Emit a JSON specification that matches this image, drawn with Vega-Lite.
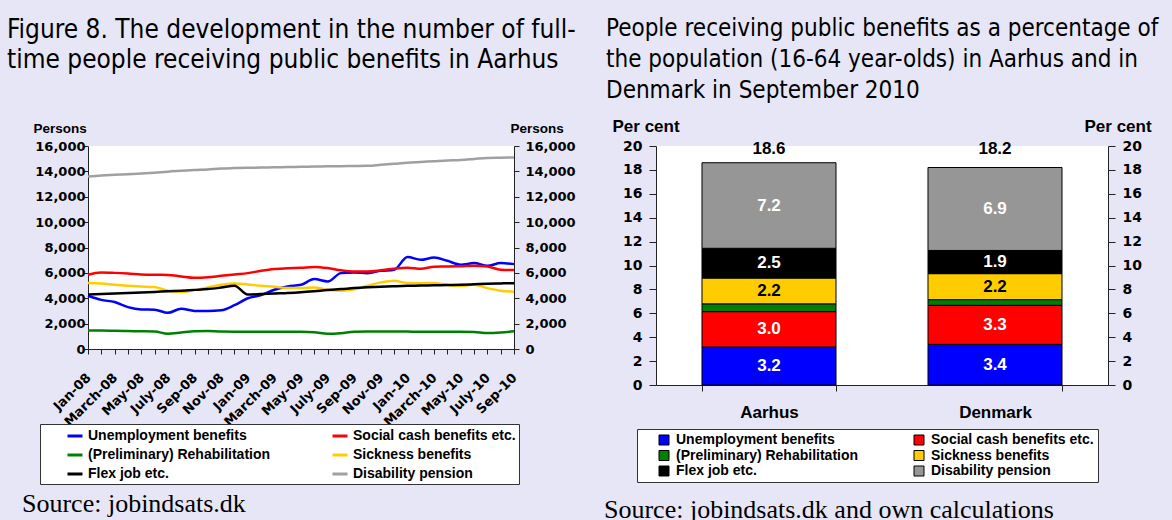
{
  "$schema": "https://vega.github.io/schema/vega-lite/v6.json",
  "background": "#E6E6F7",
  "padding": {"left": 7, "top": 16, "right": 14, "bottom": 8},
  "spacing": 28,
  "align": "none",
  "datasets": {
    "lines": [
      {"m":"Jan-08","s":"Unemployment benefits","v":4200},{"m":"Feb-08","s":"Unemployment benefits","v":3870},{"m":"March-08","s":"Unemployment benefits","v":3700},{"m":"Apr-08","s":"Unemployment benefits","v":3300},{"m":"May-08","s":"Unemployment benefits","v":3120},{"m":"June-08","s":"Unemployment benefits","v":3100},{"m":"July-08","s":"Unemployment benefits","v":2850},{"m":"Aug-08","s":"Unemployment benefits","v":3180},{"m":"Sep-08","s":"Unemployment benefits","v":3000},{"m":"Oct-08","s":"Unemployment benefits","v":2990},{"m":"Nov-08","s":"Unemployment benefits","v":3050},{"m":"Dec-08","s":"Unemployment benefits","v":3450},{"m":"Jan-09","s":"Unemployment benefits","v":4000},{"m":"Feb-09","s":"Unemployment benefits","v":4250},{"m":"March-09","s":"Unemployment benefits","v":4670},{"m":"Apr-09","s":"Unemployment benefits","v":4930},{"m":"May-09","s":"Unemployment benefits","v":5060},{"m":"June-09","s":"Unemployment benefits","v":5510},{"m":"July-09","s":"Unemployment benefits","v":5320},{"m":"Aug-09","s":"Unemployment benefits","v":5980},{"m":"Sep-09","s":"Unemployment benefits","v":6030},{"m":"Oct-09","s":"Unemployment benefits","v":5980},{"m":"Nov-09","s":"Unemployment benefits","v":6160},{"m":"Dec-09","s":"Unemployment benefits","v":6250},{"m":"Jan-10","s":"Unemployment benefits","v":7250},{"m":"Feb-10","s":"Unemployment benefits","v":7030},{"m":"March-10","s":"Unemployment benefits","v":7210},{"m":"Apr-10","s":"Unemployment benefits","v":6950},{"m":"May-10","s":"Unemployment benefits","v":6640},{"m":"June-10","s":"Unemployment benefits","v":6770},{"m":"July-10","s":"Unemployment benefits","v":6560},{"m":"Aug-10","s":"Unemployment benefits","v":6770},{"m":"Sep-10","s":"Unemployment benefits","v":6690},
      {"m":"Jan-08","s":"Social cash benefits etc.","v":5850},{"m":"Feb-08","s":"Social cash benefits etc.","v":6030},{"m":"March-08","s":"Social cash benefits etc.","v":6000},{"m":"Apr-08","s":"Social cash benefits etc.","v":5950},{"m":"May-08","s":"Social cash benefits etc.","v":5880},{"m":"June-08","s":"Social cash benefits etc.","v":5850},{"m":"July-08","s":"Social cash benefits etc.","v":5840},{"m":"Aug-08","s":"Social cash benefits etc.","v":5720},{"m":"Sep-08","s":"Social cash benefits etc.","v":5610},{"m":"Oct-08","s":"Social cash benefits etc.","v":5650},{"m":"Nov-08","s":"Social cash benefits etc.","v":5770},{"m":"Dec-08","s":"Social cash benefits etc.","v":5880},{"m":"Jan-09","s":"Social cash benefits etc.","v":5980},{"m":"Feb-09","s":"Social cash benefits etc.","v":6160},{"m":"March-09","s":"Social cash benefits etc.","v":6300},{"m":"Apr-09","s":"Social cash benefits etc.","v":6370},{"m":"May-09","s":"Social cash benefits etc.","v":6400},{"m":"June-09","s":"Social cash benefits etc.","v":6470},{"m":"July-09","s":"Social cash benefits etc.","v":6380},{"m":"Aug-09","s":"Social cash benefits etc.","v":6200},{"m":"Sep-09","s":"Social cash benefits etc.","v":6100},{"m":"Oct-09","s":"Social cash benefits etc.","v":6100},{"m":"Nov-09","s":"Social cash benefits etc.","v":6200},{"m":"Dec-09","s":"Social cash benefits etc.","v":6330},{"m":"Jan-10","s":"Social cash benefits etc.","v":6400},{"m":"Feb-10","s":"Social cash benefits etc.","v":6320},{"m":"March-10","s":"Social cash benefits etc.","v":6480},{"m":"Apr-10","s":"Social cash benefits etc.","v":6500},{"m":"May-10","s":"Social cash benefits etc.","v":6530},{"m":"June-10","s":"Social cash benefits etc.","v":6570},{"m":"July-10","s":"Social cash benefits etc.","v":6500},{"m":"Aug-10","s":"Social cash benefits etc.","v":6250},{"m":"Sep-10","s":"Social cash benefits etc.","v":6220},
      {"m":"Jan-08","s":"(Preliminary) Rehabilitation","v":1450},{"m":"Feb-08","s":"(Preliminary) Rehabilitation","v":1450},{"m":"March-08","s":"(Preliminary) Rehabilitation","v":1430},{"m":"Apr-08","s":"(Preliminary) Rehabilitation","v":1410},{"m":"May-08","s":"(Preliminary) Rehabilitation","v":1400},{"m":"June-08","s":"(Preliminary) Rehabilitation","v":1380},{"m":"July-08","s":"(Preliminary) Rehabilitation","v":1200},{"m":"Aug-08","s":"(Preliminary) Rehabilitation","v":1300},{"m":"Sep-08","s":"(Preliminary) Rehabilitation","v":1400},{"m":"Oct-08","s":"(Preliminary) Rehabilitation","v":1420},{"m":"Nov-08","s":"(Preliminary) Rehabilitation","v":1370},{"m":"Dec-08","s":"(Preliminary) Rehabilitation","v":1360},{"m":"Jan-09","s":"(Preliminary) Rehabilitation","v":1360},{"m":"Feb-09","s":"(Preliminary) Rehabilitation","v":1360},{"m":"March-09","s":"(Preliminary) Rehabilitation","v":1360},{"m":"Apr-09","s":"(Preliminary) Rehabilitation","v":1350},{"m":"May-09","s":"(Preliminary) Rehabilitation","v":1350},{"m":"June-09","s":"(Preliminary) Rehabilitation","v":1320},{"m":"July-09","s":"(Preliminary) Rehabilitation","v":1200},{"m":"Aug-09","s":"(Preliminary) Rehabilitation","v":1250},{"m":"Sep-09","s":"(Preliminary) Rehabilitation","v":1360},{"m":"Oct-09","s":"(Preliminary) Rehabilitation","v":1380},{"m":"Nov-09","s":"(Preliminary) Rehabilitation","v":1380},{"m":"Dec-09","s":"(Preliminary) Rehabilitation","v":1380},{"m":"Jan-10","s":"(Preliminary) Rehabilitation","v":1370},{"m":"Feb-10","s":"(Preliminary) Rehabilitation","v":1360},{"m":"March-10","s":"(Preliminary) Rehabilitation","v":1360},{"m":"Apr-10","s":"(Preliminary) Rehabilitation","v":1360},{"m":"May-10","s":"(Preliminary) Rehabilitation","v":1360},{"m":"June-10","s":"(Preliminary) Rehabilitation","v":1340},{"m":"July-10","s":"(Preliminary) Rehabilitation","v":1260},{"m":"Aug-10","s":"(Preliminary) Rehabilitation","v":1300},{"m":"Sep-10","s":"(Preliminary) Rehabilitation","v":1390},
      {"m":"Jan-08","s":"Sickness benefits","v":5200},{"m":"Feb-08","s":"Sickness benefits","v":5170},{"m":"March-08","s":"Sickness benefits","v":5070},{"m":"Apr-08","s":"Sickness benefits","v":4990},{"m":"May-08","s":"Sickness benefits","v":4930},{"m":"June-08","s":"Sickness benefits","v":4880},{"m":"July-08","s":"Sickness benefits","v":4590},{"m":"Aug-08","s":"Sickness benefits","v":4490},{"m":"Sep-08","s":"Sickness benefits","v":4640},{"m":"Oct-08","s":"Sickness benefits","v":4850},{"m":"Nov-08","s":"Sickness benefits","v":5060},{"m":"Dec-08","s":"Sickness benefits","v":5170},{"m":"Jan-09","s":"Sickness benefits","v":5090},{"m":"Feb-09","s":"Sickness benefits","v":4980},{"m":"March-09","s":"Sickness benefits","v":4900},{"m":"Apr-09","s":"Sickness benefits","v":4800},{"m":"May-09","s":"Sickness benefits","v":4800},{"m":"June-09","s":"Sickness benefits","v":4850},{"m":"July-09","s":"Sickness benefits","v":4670},{"m":"Aug-09","s":"Sickness benefits","v":4590},{"m":"Sep-09","s":"Sickness benefits","v":4700},{"m":"Oct-09","s":"Sickness benefits","v":4980},{"m":"Nov-09","s":"Sickness benefits","v":5250},{"m":"Dec-09","s":"Sickness benefits","v":5380},{"m":"Jan-10","s":"Sickness benefits","v":5200},{"m":"Feb-10","s":"Sickness benefits","v":5190},{"m":"March-10","s":"Sickness benefits","v":5200},{"m":"Apr-10","s":"Sickness benefits","v":5050},{"m":"May-10","s":"Sickness benefits","v":4980},{"m":"June-10","s":"Sickness benefits","v":5060},{"m":"July-10","s":"Sickness benefits","v":4800},{"m":"Aug-10","s":"Sickness benefits","v":4600},{"m":"Sep-10","s":"Sickness benefits","v":4520},
      {"m":"Jan-08","s":"Flex job etc.","v":4290},{"m":"Feb-08","s":"Flex job etc.","v":4330},{"m":"March-08","s":"Flex job etc.","v":4370},{"m":"Apr-08","s":"Flex job etc.","v":4410},{"m":"May-08","s":"Flex job etc.","v":4450},{"m":"June-08","s":"Flex job etc.","v":4500},{"m":"July-08","s":"Flex job etc.","v":4550},{"m":"Aug-08","s":"Flex job etc.","v":4600},{"m":"Sep-08","s":"Flex job etc.","v":4660},{"m":"Oct-08","s":"Flex job etc.","v":4720},{"m":"Nov-08","s":"Flex job etc.","v":4840},{"m":"Dec-08","s":"Flex job etc.","v":4980},{"m":"Jan-09","s":"Flex job etc.","v":4290},{"m":"Feb-09","s":"Flex job etc.","v":4330},{"m":"March-09","s":"Flex job etc.","v":4380},{"m":"Apr-09","s":"Flex job etc.","v":4420},{"m":"May-09","s":"Flex job etc.","v":4480},{"m":"June-09","s":"Flex job etc.","v":4560},{"m":"July-09","s":"Flex job etc.","v":4650},{"m":"Aug-09","s":"Flex job etc.","v":4720},{"m":"Sep-09","s":"Flex job etc.","v":4800},{"m":"Oct-09","s":"Flex job etc.","v":4860},{"m":"Nov-09","s":"Flex job etc.","v":4910},{"m":"Dec-09","s":"Flex job etc.","v":4950},{"m":"Jan-10","s":"Flex job etc.","v":4980},{"m":"Feb-10","s":"Flex job etc.","v":5000},{"m":"March-10","s":"Flex job etc.","v":5020},{"m":"Apr-10","s":"Flex job etc.","v":5040},{"m":"May-10","s":"Flex job etc.","v":5060},{"m":"June-10","s":"Flex job etc.","v":5100},{"m":"July-10","s":"Flex job etc.","v":5140},{"m":"Aug-10","s":"Flex job etc.","v":5170},{"m":"Sep-10","s":"Flex job etc.","v":5190},
      {"m":"Jan-08","s":"Disability pension","v":13600},{"m":"Feb-08","s":"Disability pension","v":13680},{"m":"March-08","s":"Disability pension","v":13730},{"m":"Apr-08","s":"Disability pension","v":13780},{"m":"May-08","s":"Disability pension","v":13830},{"m":"June-08","s":"Disability pension","v":13900},{"m":"July-08","s":"Disability pension","v":13980},{"m":"Aug-08","s":"Disability pension","v":14040},{"m":"Sep-08","s":"Disability pension","v":14100},{"m":"Oct-08","s":"Disability pension","v":14150},{"m":"Nov-08","s":"Disability pension","v":14230},{"m":"Dec-08","s":"Disability pension","v":14260},{"m":"Jan-09","s":"Disability pension","v":14280},{"m":"Feb-09","s":"Disability pension","v":14300},{"m":"March-09","s":"Disability pension","v":14320},{"m":"Apr-09","s":"Disability pension","v":14340},{"m":"May-09","s":"Disability pension","v":14360},{"m":"June-09","s":"Disability pension","v":14380},{"m":"July-09","s":"Disability pension","v":14400},{"m":"Aug-09","s":"Disability pension","v":14410},{"m":"Sep-09","s":"Disability pension","v":14420},{"m":"Oct-09","s":"Disability pension","v":14440},{"m":"Nov-09","s":"Disability pension","v":14520},{"m":"Dec-09","s":"Disability pension","v":14600},{"m":"Jan-10","s":"Disability pension","v":14680},{"m":"Feb-10","s":"Disability pension","v":14740},{"m":"March-10","s":"Disability pension","v":14800},{"m":"Apr-10","s":"Disability pension","v":14860},{"m":"May-10","s":"Disability pension","v":14900},{"m":"June-10","s":"Disability pension","v":14980},{"m":"July-10","s":"Disability pension","v":15060},{"m":"Aug-10","s":"Disability pension","v":15080},{"m":"Sep-10","s":"Disability pension","v":15100}
    ],
    "pct": [
      {"area":"Aarhus","cat":"Unemployment benefits","pct":3.18},
      {"area":"Aarhus","cat":"Social cash benefits etc.","pct":2.96},
      {"area":"Aarhus","cat":"(Preliminary) Rehabilitation","pct":0.65},
      {"area":"Aarhus","cat":"Sickness benefits","pct":2.16},
      {"area":"Aarhus","cat":"Flex job etc.","pct":2.49},
      {"area":"Aarhus","cat":"Disability pension","pct":7.16},
      {"area":"Denmark","cat":"Unemployment benefits","pct":3.40},
      {"area":"Denmark","cat":"Social cash benefits etc.","pct":3.27},
      {"area":"Denmark","cat":"(Preliminary) Rehabilitation","pct":0.47},
      {"area":"Denmark","cat":"Sickness benefits","pct":2.18},
      {"area":"Denmark","cat":"Flex job etc.","pct":1.94},
      {"area":"Denmark","cat":"Disability pension","pct":6.94}
    ],
    "totals": [
      {"area":"Aarhus","total":18.6},
      {"area":"Denmark","total":18.2}
    ]
  },
  "config": {
    "font": "Liberation Sans",
    "view": {"fill": "white", "stroke": null},
    "axis": {"grid": false, "domainColor": "#222", "tickColor": "#222", "labelColor": "black", "titleColor": "black", "labelFont": "DejaVu Sans", "labelFontWeight": "bold", "labelFontSize": 13, "titleFont": "Liberation Sans", "titleFontWeight": "bold", "titleFontSize": 13.5, "labelOverlap": false, "labelFlush": false},
    "legend": {"labelFont": "Liberation Sans", "labelFontWeight": "bold", "labelFontSize": 14, "labelColor": "black", "labelLimit": 600, "fillColor": "white", "strokeColor": "#333", "titleFontSize": 14, "titleOrient": "left", "columns": 2, "gridAlign": "all"},
    "title": {"color": "black"}
  },
  "hconcat": [
    {
      "title": {"text": "Source: jobindsats.dk", "orient": "bottom", "anchor": "start", "frame": "bounds", "font": "Liberation Serif", "fontSize": 26, "fontWeight": "normal", "offset": 62, "dx": 15},
      "vconcat": [
        {
          "width": 426,
          "height": 203,
          "title": {"text": ["Figure 8. The development in the number of full-", "time people receiving public benefits in Aarhus"], "anchor": "start", "frame": "group", "dx": -81, "offset": 48, "font": "DejaVu Sans Condensed, Roboto, sans-serif", "fontSize": 26, "fontWeight": "normal", "lineHeight": 30.5},
          "data": {"name": "lines"},
          "encoding": {
            "x": {"field": "m", "type": "ordinal",
              "scale": {"type": "point", "padding": 0, "domain": ["Jan-08","Feb-08","March-08","Apr-08","May-08","June-08","July-08","Aug-08","Sep-08","Oct-08","Nov-08","Dec-08","Jan-09","Feb-09","March-09","Apr-09","May-09","June-09","July-09","Aug-09","Sep-09","Oct-09","Nov-09","Dec-09","Jan-10","Feb-10","March-10","Apr-10","May-10","June-10","July-10","Aug-10","Sep-10"]},
              "axis": {"title": null, "labelAngle": -45, "labelFontSize": 13, "tickSize": 5, "labelPadding": 17, "labelOffset": -4, "labelExpr": "indexof(['Jan','March','May','July','Sep','Nov'], split(datum.label, '-')[0]) >= 0 ? datum.label : ''"}}
          },
          "layer": [
            {
              "mark": {"type": "line", "interpolate": "monotone", "strokeWidth": 2.5},
              "encoding": {
                "y": {"field": "v", "type": "quantitative", "scale": {"domain": [0, 16000]},
                  "axis": {"orient": "left", "values": [0,2000,4000,6000,8000,10000,12000,14000,16000], "format": ",.0f", "title": "Persons", "titleAngle": 0, "titleAlign": "left", "titleBaseline": "alphabetic", "titleX": -55, "titleY": -14, "tickSize": 5, "labelPadding": -2}},
                "color": {"field": "s", "type": "nominal",
                  "scale": {"domain": ["Unemployment benefits","(Preliminary) Rehabilitation","Flex job etc.","Social cash benefits etc.","Sickness benefits","Disability pension"], "range": ["#0000FF","#008000","#000000","#FF0000","#FFCC00","#A0A0A0"]},
                  "legend": {"orient": "none", "legendX": -48, "legendY": 278, "title": " ", "titlePadding": 23, "symbolType": "stroke", "symbolSize": 225, "symbolStrokeWidth": 3, "labelOffset": 4, "columnPadding": 55, "rowPadding": 3, "padding": 3}}
              }
            },
            {
              "mark": {"type": "line", "opacity": 0},
              "encoding": {
                "y": {"field": "v", "type": "quantitative", "scale": {"domain": [0, 16000]},
                  "axis": {"orient": "right", "values": [0,2000,4000,6000,8000,10000,12000,14000,16000], "format": ",.0f", "title": "Persons", "titleAngle": 0, "titleAlign": "left", "titleBaseline": "alphabetic", "titleX": -4, "titleY": -14, "tickSize": 5, "labelPadding": 6}},
                "detail": {"field": "s", "type": "nominal"}
              }
            }
          ],
          "resolve": {"scale": {"y": "independent"}}
        }
      ]
    },
    {
      "title": {"text": "Source: jobindsats.dk and own calculations", "orient": "bottom", "anchor": "start", "frame": "bounds", "font": "Liberation Serif", "fontSize": 26, "fontWeight": "normal", "offset": 14, "dx": -2},
      "vconcat": [
        {
          "width": 452,
          "height": 239,
          "title": {"text": ["People receiving public benefits as a percentage of", "the population (16-64 year-olds) in Aarhus and in", "Denmark in September 2010"], "anchor": "start", "frame": "group", "dx": -50, "offset": 14, "font": "DejaVu Sans Condensed, Roboto, sans-serif", "fontSize": 24, "fontWeight": "normal", "lineHeight": 31},
          "encoding": {
            "x": {"field": "area", "type": "nominal", "scale": {"paddingInner": 0.407, "paddingOuter": 0.2035},
              "axis": {"title": null, "labelAngle": 0, "tickBand": "extent", "tickSize": 6, "labelPadding": 13, "labelFont": "Liberation Sans", "labelFontSize": 17}}
          },
          "layer": [
            {
              "data": {"name": "pct"},
              "transform": [{"calculate": "indexof(['Unemployment benefits','Social cash benefits etc.','(Preliminary) Rehabilitation','Sickness benefits','Flex job etc.','Disability pension'], datum.cat)", "as": "k"}],
              "mark": {"type": "bar", "stroke": "black", "strokeWidth": 1},
              "encoding": {
                "y": {"field": "pct", "type": "quantitative", "stack": "zero", "scale": {"domain": [0, 20]},
                  "axis": {"orient": "left", "values": [0,2,4,6,8,10,12,14,16,18,20], "title": "Per cent", "titleFontSize": 17, "titleAngle": 0, "titleAlign": "left", "titleBaseline": "alphabetic", "titleX": -44, "titleY": -15, "tickSize": 7, "labelPadding": 7, "labelFontSize": 14}},
                "order": {"field": "k", "type": "quantitative"},
                "color": {"field": "cat", "type": "nominal",
                  "scale": {"domain": ["Unemployment benefits","(Preliminary) Rehabilitation","Flex job etc.","Social cash benefits etc.","Sickness benefits","Disability pension"], "range": ["#0000FF","#008000","#000000","#FF0000","#FFCC00","#969696"]},
                  "legend": {"orient": "none", "legendX": -19, "legendY": 283, "title": " ", "titlePadding": 16, "symbolType": "square", "symbolSize": 100, "symbolStrokeColor": "black", "symbolStrokeWidth": 1, "labelOffset": 5, "columnPadding": 53, "rowPadding": 1.5, "padding": 4}}
              }
            },
            {
              "data": {"name": "pct"},
              "transform": [{"calculate": "indexof(['Unemployment benefits','Social cash benefits etc.','(Preliminary) Rehabilitation','Sickness benefits','Flex job etc.','Disability pension'], datum.cat)", "as": "k"}],
              "mark": {"type": "text", "font": "Liberation Sans", "fontWeight": "bold", "fontSize": 17, "baseline": "middle"},
              "encoding": {
                "y": {"field": "pct", "type": "quantitative", "stack": "zero", "bandPosition": 0.5, "scale": {"domain": [0, 20]}, "axis": null},
                "order": {"field": "k", "type": "quantitative"},
                "color": {"field": "cat", "type": "nominal",
                  "scale": {"domain": ["Unemployment benefits","Social cash benefits etc.","(Preliminary) Rehabilitation","Sickness benefits","Flex job etc.","Disability pension"], "range": ["#FFFFFF","#FFFFFF","#FFFFFF","#000000","#FFFFFF","#FFFFFF"]},
                  "legend": null},
                "text": {"condition": {"test": "datum.cat === '(Preliminary) Rehabilitation'", "value": ""}, "field": "pct", "type": "quantitative", "format": ".1f"}
              }
            },
            {
              "data": {"name": "totals"},
              "mark": {"type": "text", "font": "Liberation Sans", "fontWeight": "bold", "fontSize": 17, "baseline": "middle", "dy": 3},
              "encoding": {
                "y": {"datum": 20, "type": "quantitative", "scale": {"domain": [0, 20]},
                  "axis": {"orient": "right", "values": [0,2,4,6,8,10,12,14,16,18,20], "title": "Per cent", "titleFontSize": 17, "titleAngle": 0, "titleAlign": "left", "titleBaseline": "alphabetic", "titleX": -24, "titleY": -15, "tickSize": 7, "labelPadding": 7, "labelFontSize": 14}},
                "text": {"field": "total", "type": "quantitative", "format": ".1f"}
              }
            }
          ],
          "resolve": {"scale": {"y": "independent", "color": "independent"}}
        }
      ]
    }
  ]
}
